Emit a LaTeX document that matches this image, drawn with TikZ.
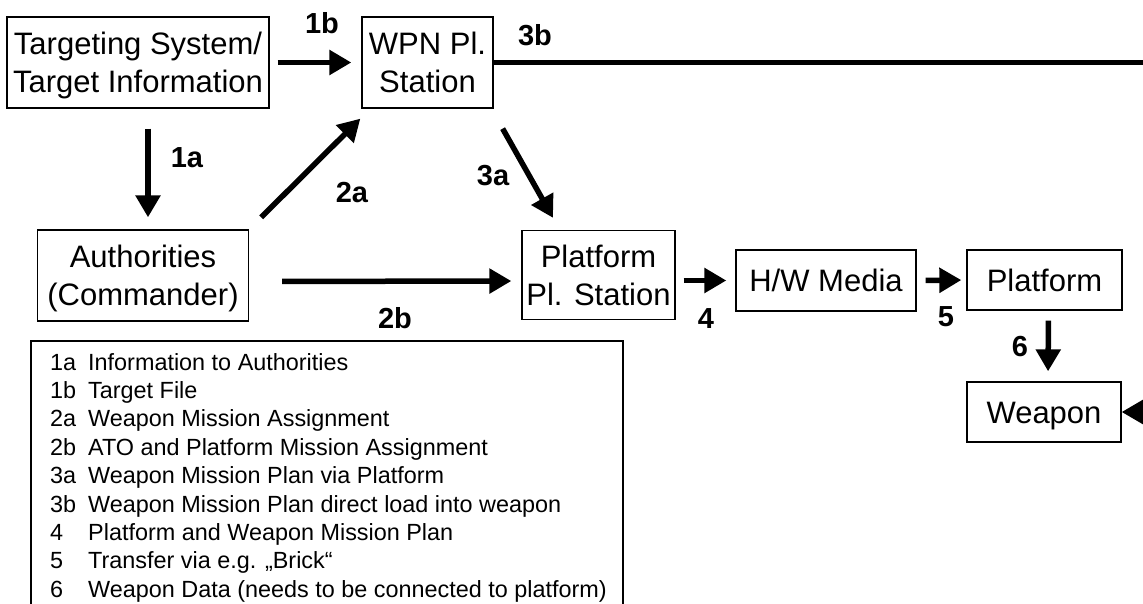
\documentclass[tikz,border=0pt]{standalone}
\usepackage{fontspec}
\setmainfont{Liberation Sans}
\usetikzlibrary{arrows.meta,calc}
% strut that puts the middle of the capitals on the middle of the box
\newcommand\capstrut{\rule[-7pt]{0pt}{36pt}}
\begin{document}
\begin{tikzpicture}[x=1pt,y=-1pt,
  box/.style={draw, line width=1.3pt, inner sep=0pt, align=center,
    font=\fontsize{31}{38}\selectfont},
  arr/.style={line width=5.5pt, -{Triangle[length=22pt,width=24pt]}},
  num/.style={font=\bfseries\fontsize{29}{29}\selectfont, inner sep=0pt},
  legtxt/.style={font=\fontsize{23.4}{28}\selectfont, inner sep=0pt, anchor=base west}]
\useasboundingbox (0,0) rectangle (1143,604);
\clip (0,0) rectangle (1143,604);

% boxes
\node[box, minimum width=262pt, minimum height=91pt] (tgt) at (138,62.5) {\capstrut Targeting System/\\\capstrut Target Information};
\node[box, minimum width=131pt, minimum height=91pt] (wpn) at (427.5,62.5) {\capstrut WPN Pl.\\\capstrut Station};
\node[box, minimum width=211pt, minimum height=91pt] (auth) at (143,275.5) {\capstrut Authorities\\\capstrut (Commander)};
\node[box, minimum width=153pt, minimum height=89pt] (pps) at (598.5,275) {\capstrut Platform\\\capstrut Pl. Station};
\node[box, minimum width=180pt, minimum height=61pt] (hw) at (826,280.5) {\capstrut H/W Media};
\node[box, minimum width=155pt, minimum height=60pt] (plat) at (1044.5,280) {\capstrut Platform};
\node[box, minimum width=154pt, minimum height=60pt] (weap) at (1044,412) {\capstrut Weapon};

% connectors
\draw[arr, shorten <=20pt, shorten >=12pt] ($(tgt.south)+(10,0)$) -- ($(auth.north)+(5,0)$);
\draw[arr, shorten <=8pt, shorten >=10pt] (tgt.east) -- (wpn.west);
\draw[arr] ($(auth.north east)+(12,-12)$) -- ($(wpn.south west)+(-1,10)$);
\draw[arr] ($(wpn.south east)+(9,20)$) -- ($(pps.north)+(-45.5,-12)$);
\draw[arr, shorten <=33pt, shorten >=10pt] ($(auth.east)+(0,6)$) -- ($(pps.west)+(0,6)$);
\draw[arr, shorten <=8pt, shorten >=9pt] (pps.east |- hw.west) -- (hw.west);
\draw[arr, shorten <=9pt, shorten >=5pt] (hw.east) -- (plat.west);
\draw[arr, shorten <=10pt, shorten >=10pt] ($(plat.south)+(4,0)$) -- ($(weap.north)+(4,0)$);
\draw[line width=5pt, -{Triangle[length=22pt,width=24pt]}] (wpn.east) -- ++(700,0) |- (weap.east);

% connector labels
\node[num] (l1b) at (322,23) {1b};
\node[num] (l3b) at (535,35) {3b};
\node[num] (l1a) at (187,158) {1a};
\node[num] (l2a) at (352,193) {2a};
\node[num] (l3a) at (493,176) {3a};
\node[num] (l2b) at (395,318) {2b};
\node[num] (l4) at (706,319) {4};
\node[num] (l5) at (946,317) {5};
\node[num] (l6) at (1020,347) {6};

% legend
\draw[line width=1.3pt] (31,341) rectangle (623,640);
\foreach \k/\n/\t [count=\i from 0] in {
  1a/{1a}/{Information to Authorities},
  1b/{1b}/{Target File},
  2a/{2a}/{Weapon Mission Assignment},
  2b/{2b}/{ATO and Platform Mission Assignment},
  3a/{3a}/{Weapon Mission Plan via Platform},
  3b/{3b}/{Weapon Mission Plan direct load into weapon},
  4/{4}/{Platform and Weapon Mission Plan},
  5/{5}/{Transfer via e.g. „Brick“},
  6/{6}/{Weapon Data (needs to be connected to platform)}} {
  \node[legtxt] (key\k) at (50,370+28.4*\i) {\n};
  \node[legtxt] (desc\k) at (88,370+28.4*\i) {\t};
}
\end{tikzpicture}
\end{document}
